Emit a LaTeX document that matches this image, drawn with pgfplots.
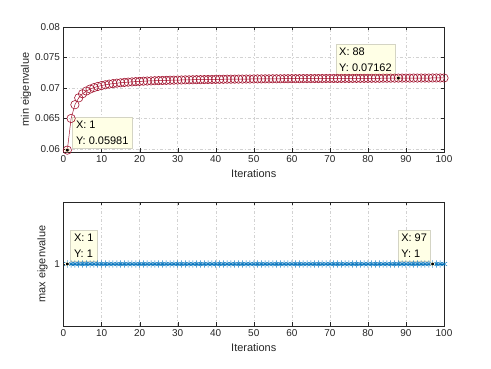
\documentclass[border=0pt]{standalone}
\usepackage{fontspec}
\setmainfont{Liberation Sans}
\usepackage{pgfplots}
\pgfplotsset{compat=1.18}
\definecolor{mred}{HTML}{A2142F}
\definecolor{mblue}{HTML}{0072BD}
\definecolor{axgray}{HTML}{262626}
\definecolor{tipfill}{HTML}{FFFFE6}
\definecolor{tipdraw}{HTML}{D4D4C4}
\pgfplotsset{
  every axis/.append style={
    scale only axis,
    width=380.5bp,
    anchor=south west,
    xmin=0, xmax=100,
    xtick={0,10,...,100},
    axis line style={axgray},
    tick style={axgray},
    tick align=inside,
    major tick length=3.5bp,
    tick label style={font=\fontsize{10}{12}\selectfont, text=axgray},
    label style={font=\fontsize{11}{13}\selectfont, text=axgray},
    /pgf/number format/assume math mode=true,
    grid=major,
    major grid style={gray!35, dash pattern=on 3bp off 2bp on 1bp off 2bp},
    clip=false,
    xlabel={Iterations},
  },
}
\tikzset{
  tip/.style={draw=tipdraw, fill=tipfill, align=left, inner sep=3.5bp,
    font=\fontsize{11}{16}\selectfont, text=black},
}
\begin{document}
\begin{tikzpicture}
\path (0bp,0bp) rectangle (491bp,369bp);
\begin{axis}[
  at={(63.5bp,217bp)}, height=125bp,
  ymin=0.0595, ymax=0.08,
  ytick={0.06,0.065,0.07,0.075,0.08},
  scaled y ticks=false,
  yticklabel style={/pgf/number format/fixed, /pgf/number format/precision=3},
  ylabel={min eigenvalue},
  ylabel style={xshift=0bp, yshift=-3bp},
]
\addplot[mred, line width=0.5bp, mark=o, mark size=4.2bp, mark options={line width=0.6bp}] coordinates {
(1,0.05981)(2,0.06500)(3,0.06725)(4,0.06838)(5,0.06905)(6,0.06950)(7,0.06982)(8,0.07006)(9,0.07025)(10,0.07040)
(11,0.07052)(12,0.07063)(13,0.07071)(14,0.07079)(15,0.07085)(16,0.07091)(17,0.07096)(18,0.07100)(19,0.07104)(20,0.07108)
(21,0.07111)(22,0.07114)(23,0.07116)(24,0.07119)(25,0.07121)(26,0.07123)(27,0.07125)(28,0.07127)(29,0.07128)(30,0.07130)
(31,0.07131)(32,0.07133)(33,0.07134)(34,0.07135)(35,0.07136)(36,0.07137)(37,0.07138)(38,0.07139)(39,0.07140)(40,0.07141)
(41,0.07142)(42,0.07143)(43,0.07144)(44,0.07144)(45,0.07145)(46,0.07146)(47,0.07146)(48,0.07147)(49,0.07147)(50,0.07148)
(51,0.07149)(52,0.07149)(53,0.07150)(54,0.07150)(55,0.07151)(56,0.07151)(57,0.07151)(58,0.07152)(59,0.07152)(60,0.07153)
(61,0.07153)(62,0.07153)(63,0.07154)(64,0.07154)(65,0.07154)(66,0.07155)(67,0.07155)(68,0.07155)(69,0.07156)(70,0.07156)
(71,0.07156)(72,0.07156)(73,0.07157)(74,0.07157)(75,0.07157)(76,0.07157)(77,0.07158)(78,0.07158)(79,0.07158)(80,0.07158)
(81,0.07159)(82,0.07159)(83,0.07159)(84,0.07160)(85,0.07160)(86,0.07161)(87,0.07161)(88,0.07162)(89,0.07162)(90,0.07162)
(91,0.07162)(92,0.07163)(93,0.07163)(94,0.07163)(95,0.07163)(96,0.07163)(97,0.07164)(98,0.07164)(99,0.07164)(100,0.07164)
};
\addplot[only marks, mark=*, mark size=2bp, mark options={fill=black, draw=orange!25, line width=0.7bp}]
  coordinates {(1,0.05981)(88,0.07162)};
\node[tip, anchor=south west, xshift=5bp, yshift=2bp] at (axis cs:1,0.05981) {X: 1\\Y: 0.05981};
\node[tip, anchor=south east, xshift=-3bp, yshift=3bp] at (axis cs:88,0.07162) {X: 88\\Y: 0.07162};
\end{axis}
\begin{axis}[
  at={(63.5bp,43bp)}, height=124bp,
  ymin=0.5, ymax=1.5,
  ytick={1},
  ylabel={max eigenvalue},
]
\addplot[mblue, line width=0.5bp, mark=asterisk, mark size=3.6bp, mark options={line width=0.5bp}] coordinates {
(1,1)(2,1)(3,1)(4,1)(5,1)(6,1)(7,1)(8,1)(9,1)(10,1)
(11,1)(12,1)(13,1)(14,1)(15,1)(16,1)(17,1)(18,1)(19,1)(20,1)
(21,1)(22,1)(23,1)(24,1)(25,1)(26,1)(27,1)(28,1)(29,1)(30,1)
(31,1)(32,1)(33,1)(34,1)(35,1)(36,1)(37,1)(38,1)(39,1)(40,1)
(41,1)(42,1)(43,1)(44,1)(45,1)(46,1)(47,1)(48,1)(49,1)(50,1)
(51,1)(52,1)(53,1)(54,1)(55,1)(56,1)(57,1)(58,1)(59,1)(60,1)
(61,1)(62,1)(63,1)(64,1)(65,1)(66,1)(67,1)(68,1)(69,1)(70,1)
(71,1)(72,1)(73,1)(74,1)(75,1)(76,1)(77,1)(78,1)(79,1)(80,1)
(81,1)(82,1)(83,1)(84,1)(85,1)(86,1)(87,1)(88,1)(89,1)(90,1)
(91,1)(92,1)(93,1)(94,1)(95,1)(96,1)(97,1)(98,1)(99,1)(100,1)
};
\addplot[only marks, mark=*, mark size=2bp, mark options={fill=black, draw=tipfill, line width=0.7bp}]
  coordinates {(1,1)(97,1)};
\node[tip, anchor=south west, xshift=3bp, yshift=3bp] at (axis cs:1,1) {X: 1\\Y: 1};
\node[tip, anchor=south east, xshift=-2bp, yshift=3bp] at (axis cs:97,1) {X: 97\\Y: 1};
\end{axis}
\end{tikzpicture}
\end{document}
